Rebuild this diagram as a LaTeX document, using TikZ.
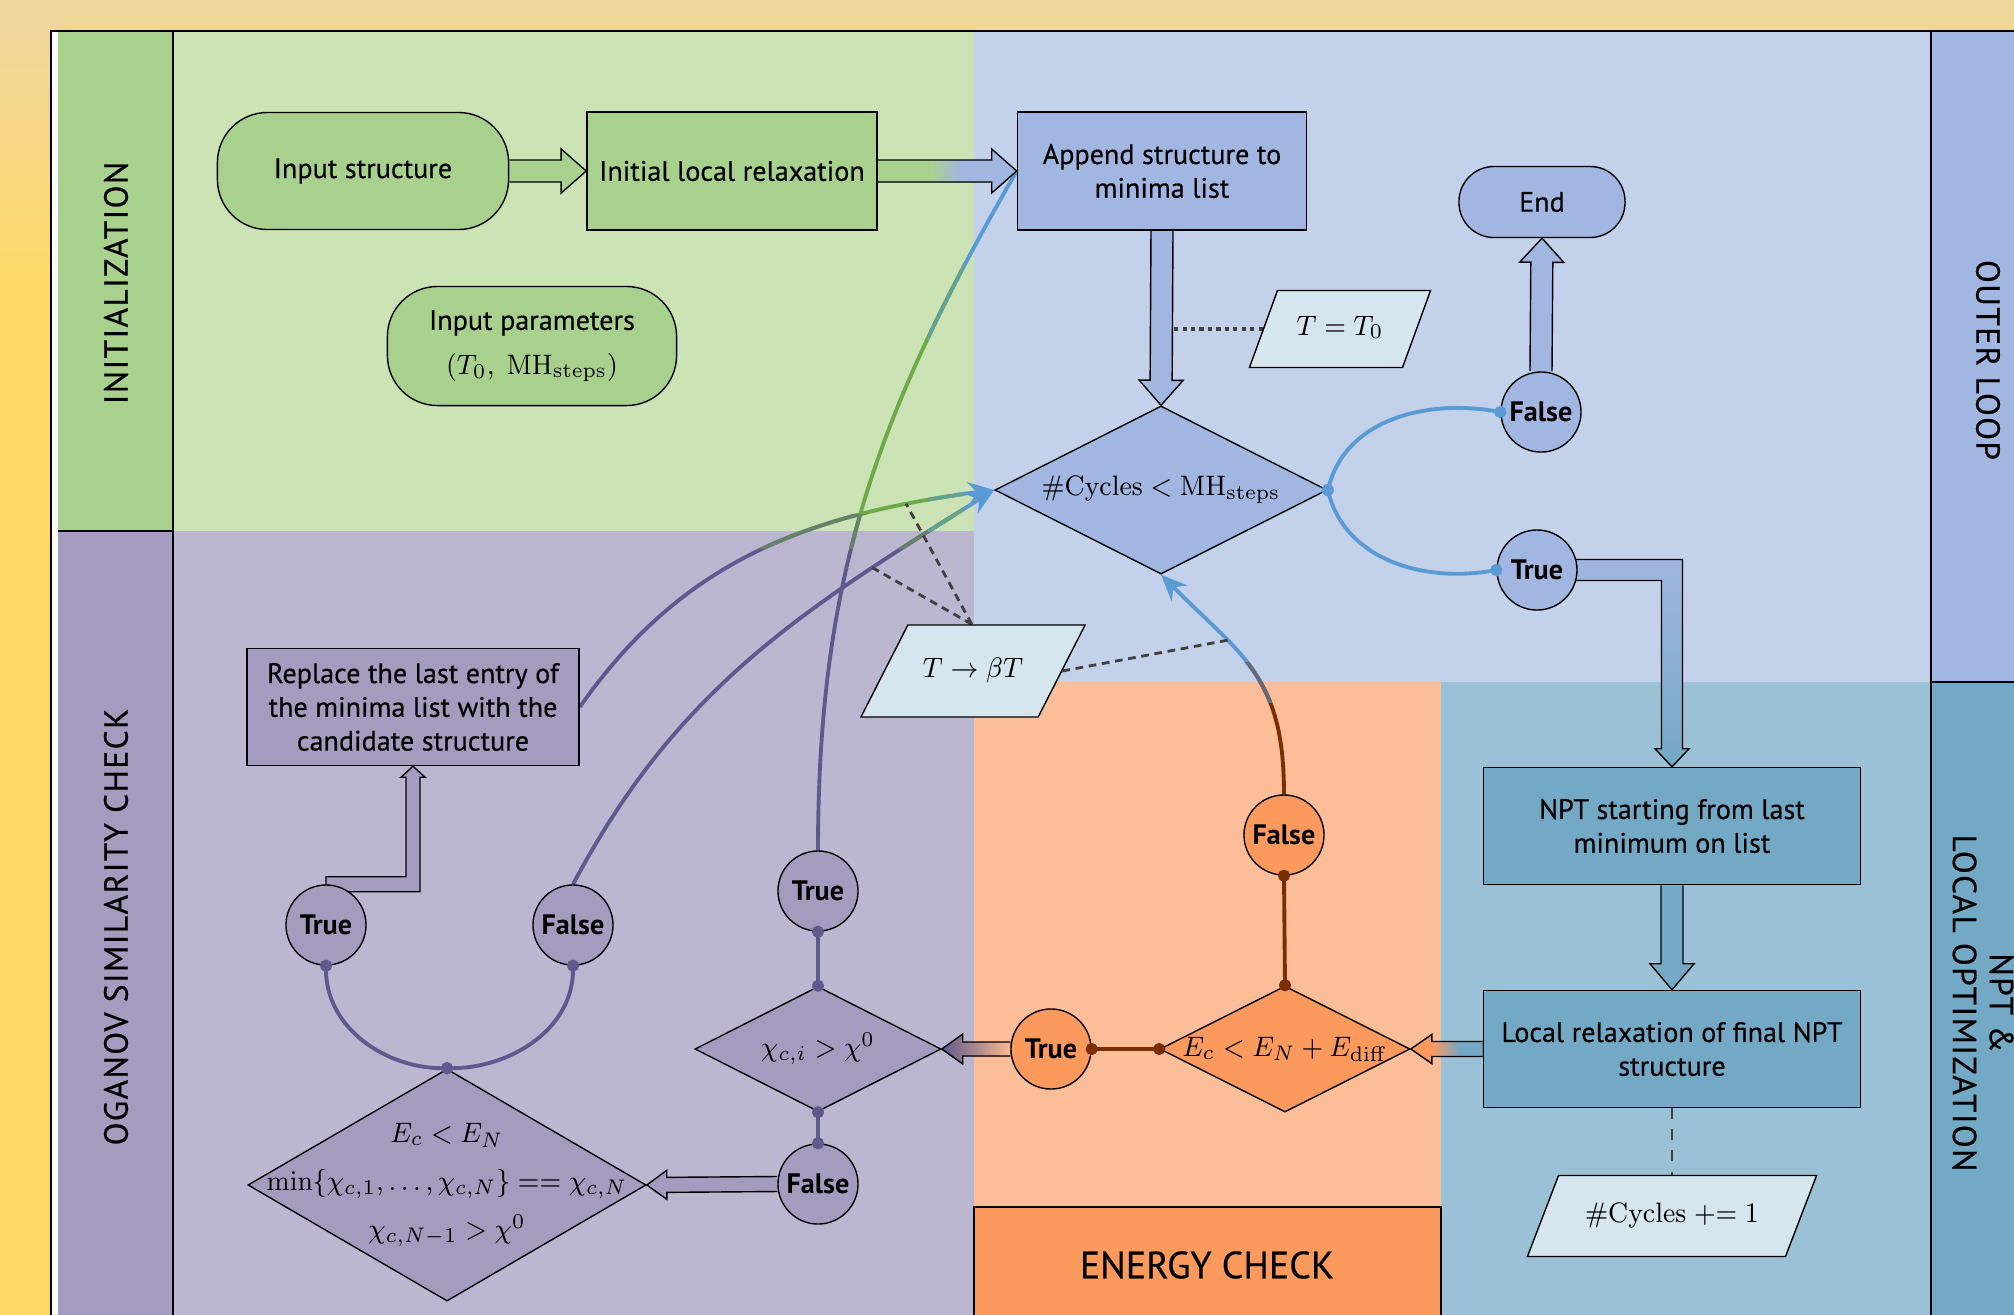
\documentclass[tikz,border=0pt]{standalone}
\usepackage{amsmath,amssymb,graphicx}
\usepackage[no-math]{fontspec}
\setmainfont{PT Sans}[UprightFeatures={FakeBold=0.4}]
\usepackage{tikz}
\usetikzlibrary{shapes,calc,arrows.meta}
\pgfdeclarelayer{background}
\pgfdeclarelayer{links}
\pgfdeclarelayer{front}
\pgfsetlayers{background,links,main,front}

\definecolor{bgtop}{HTML}{EFD69B}
\definecolor{bgbot}{HTML}{FFD966}
\definecolor{initbg}{HTML}{CCE3B5}
\definecolor{initfg}{HTML}{A9D18E}
\definecolor{ogbg}{HTML}{BBB7D1}
\definecolor{ogfg}{HTML}{A39CBE}
\definecolor{outbg}{HTML}{C3D1EA}
\definecolor{outfg}{HTML}{A1B6E0}
\definecolor{enbg}{HTML}{FCBE98}
\definecolor{enfg}{HTML}{FC9A5E}
\definecolor{nptbg}{HTML}{9AC1D5}
\definecolor{nptfg}{HTML}{73A9C4}
\definecolor{iofill}{HTML}{D6E6EE}
\definecolor{lnblue}{HTML}{5B9BD5}
\definecolor{lnpurple}{HTML}{5F5A8D}
\definecolor{lngreen}{HTML}{6FAA48}
\definecolor{lnbrown}{HTML}{7A2E05}
\definecolor{peach}{HTML}{F9B98E}

\pgfdeclareverticalshading{bgfade}{100bp}{color(0bp)=(bgbot); color(64bp)=(bgbot); color(74bp)=(bgtop); color(100bp)=(bgtop)}
\pgfdeclarehorizontalshading{greenblue}{100bp}{color(0bp)=(initfg); color(44bp)=(initfg); color(55bp)=(outfg); color(100bp)=(outfg)}
\pgfdeclarehorizontalshading{orangeteal}{100bp}{color(0bp)=(enfg); color(40bp)=(enfg); color(59bp)=(nptfg); color(100bp)=(nptfg)}

% narrow math, as set in the slide
\newcommand{\mt}[1]{\scalebox{0.93}[1]{\fontsize{8.5}{10}\selectfont #1}}

\tikzset{
   process/.style={rectangle, draw, align=center, inner sep=1pt},
   terminal/.style={rectangle, rounded corners=0.5cm, draw, align=center, inner sep=1pt},
   decision/.style={diamond, draw, inner sep=0pt},
   branch/.style={circle, draw, minimum size=0.8cm, inner sep=0pt,
                  font=\fontsize{8}{9.6}\selectfont\bfseries},
   iobox/.style={trapezium, draw, fill=iofill, trapezium stretches body=true,
                 text height=1.8mm, text depth=0.6mm,
                 trapezium left angle=70, trapezium right angle=110},
   lanelabel/.style={font=\fontsize{9.5}{10.5}\selectfont\addfontfeatures{LetterSpace=4, FakeBold=1}},
   link/.style={line width=1.1pt},
   dotlink/.style={link, {Circle[length=0.12cm]}-{Circle[length=0.12cm]},
                   shorten <=-0.06cm, shorten >=-0.06cm},
   tiplink/.style={-{Stealth[length=0.26cm, width=0.22cm]}},
   betalink/.style={line width=0.8pt, black!75, dash pattern=on 2.2pt off 1.6pt}
}

% block arrow: [style]{from}{to}{shaft half width}{head half width}{head length}
\newcommand{\blockarrow}[6][]{%
  \path (#2) coordinate (ba-s) (#3) coordinate (ba-t)
        ($(ba-t)!#6!(ba-s)$) coordinate (ba-h);
  \filldraw[#1] ($(ba-s)!#4!90:(ba-t)$) -- ($(ba-h)!#4!90:(ba-t)$)
     -- ($(ba-h)!#5!90:(ba-t)$) -- (ba-t) -- ($(ba-h)!#5!-90:(ba-t)$)
     -- ($(ba-h)!#4!-90:(ba-t)$) -- ($(ba-s)!#4!-90:(ba-t)$);
}

% curved connectors, drawn once per lane colour
\newcommand{\curveA}{(ct.north) to[out=90, in=-120] (app.west)}
\newcommand{\curveB}{(rep.east) to[out=55, in=187] coordinate[pos=0.83] (bt1) (cyc.west)}
\newcommand{\curveC}{(ogf.north) to[out=62, in=212] coordinate[pos=0.77] (bt2) (cyc.west)}
\newcommand{\curveD}{(efalse.north) to[out=90, in=-45, looseness=1.2] coordinate[pos=0.68] (bt3) (cyc.south)}

\begin{document}
\begin{tikzpicture}[x=0.01cm, y=-0.01cm, font=\fontsize{8}{9.6}\selectfont]
\useasboundingbox (0,0) rectangle (2014,1314);

\begin{pgfonlayer}{background}
  \shade[shading=bgfade] (0,0) rectangle (2014,1314);
  \fill[white] (51,31) rectangle (2030,1330);
  \fill[initfg] (58,32) rectangle (173,531);
  \fill[ogfg] (58,531) rectangle (173,1330);
  \fill[initbg] (173,32) rectangle (974,531);
  \fill[ogbg] (173,531) rectangle (974,1330);
  \fill[outbg] (974,32) rectangle (1931,682);
  \fill[enbg] (974,682) rectangle (1441,1330);
  \fill[nptbg] (1441,682) rectangle (1931,1330);
  \fill[outfg] (1931,32) rectangle (2030,682);
  \fill[nptfg] (1931,682) rectangle (2030,1330);
  \filldraw[fill=enfg] (974,1330) |- (1441,1207) -- (1441,1330);
  \draw[line width=0.6pt] (51,1330) |- (2030,31);
  \draw (173,32) -- (173,1330) (58,531) -- (173,531);
  \draw (1931,32) -- (1931,1330) (1931,682) -- (2030,682);
\end{pgfonlayer}

% lane titles
\node[lanelabel, rotate=90] (linit) at (116,283) {INITIALIZATION};
\node[lanelabel, rotate=90] (logan) at (116,927) {OGANOV SIMILARITY CHECK};
\node[lanelabel, rotate=-90] (louter) at (1988,360) {OUTER LOOP};
\node[lanelabel, rotate=-90, align=center] (lnpt) at (1983,1003) {NPT \&\\LOCAL OPTIMIZATION};
\node[font=\fontsize{10.8}{12}\selectfont\addfontfeatures{FakeBold=1.2}] (lenergy) at (1207,1265) {ENERGY CHECK};

% initialization
\node[terminal, fill=initfg, minimum width=2.91cm, minimum height=1.17cm] (ins) at (363,171) {Input structure};
\node[process, fill=initfg, minimum width=2.9cm, minimum height=1.18cm] (ilr) at (732,171) {Initial local relaxation};
\node[terminal, fill=initfg, minimum width=2.89cm, minimum height=1.19cm] (inp) at (532,346)
     {Input parameters\\[3pt]\mt{$(T_0,\ \mathrm{MH}_{\mathrm{steps}})$}};

% outer loop
\node[process, fill=outfg, minimum width=2.89cm, minimum height=1.18cm] (app) at (1162,171) {Append structure to\\minima list};
\node[terminal, fill=outfg, rounded corners=0.35cm, minimum width=1.66cm, minimum height=0.71cm] (end) at (1542,202) {End};
\node[iobox, inner ysep=2.65mm, minimum width=1.81cm] (tzero) at (1340,329) {\mt{$T = T_0$}};
\node[decision, fill=outfg, minimum width=3.32cm, minimum height=1.68cm,
      label=center:{\mt{$\mathrm{\#Cycles} < \mathrm{MH}_{\mathrm{steps}}$}}] (cyc) at (1161,490) {};
\node[branch, fill=outfg] (ofalse) at (1541,412) {False};
\node[branch, fill=outfg] (otrue) at (1537,570) {True};
\node[iobox, trapezium left angle=63, trapezium right angle=117, inner ysep=3.4mm, minimum width=2.24cm] (tb) at (973,671) {\mt{$T \to \beta T$}};

% NPT and local optimization
\node[process, fill=nptfg, minimum width=3.77cm, minimum height=1.17cm] (npt) at (1672,826) {NPT starting from last\\minimum on list};
\node[process, fill=nptfg, minimum width=3.77cm, minimum height=1.17cm] (loc) at (1672,1049) {Local relaxation of final NPT\\structure};
\node[iobox, trapezium left angle=69, trapezium right angle=111, inner ysep=2.85mm, minimum width=2.89cm] (cycinc) at (1672,1216) {\mt{$\mathrm{\#Cycles} \mathrel{+}= 1$}};

% energy check
\node[decision, fill=enfg, minimum width=2.5cm, minimum height=1.26cm,
      label=center:{\mt{$E_c < E_N + E_{\mathrm{diff}}$}}] (edia) at (1285,1049) {};
\node[branch, fill=enfg] (efalse) at (1284,835) {False};
\node[branch, fill=enfg] (etrue) at (1051,1049) {True};

% oganov similarity check
\node[process, fill=ogfg, minimum width=3.32cm, minimum height=1.17cm] (rep) at (413,707)
     {Replace the last entry of\\the minima list with the\\candidate structure};
\node[branch, fill=ogfg] (ogt) at (326,925) {True};
\node[branch, fill=ogfg] (ogf) at (573,925) {False};
\node[branch, fill=ogfg] (ct) at (818,891) {True};
\node[decision, fill=ogfg, minimum width=2.46cm, minimum height=1.25cm,
      label=center:{\mt{$\chi_{c,i} > \chi^0$}}] (chi) at (818,1049) {};
\node[branch, fill=ogfg] (cf) at (818,1184) {False};
\node[decision, fill=ogfg, minimum width=3.98cm, minimum height=2.32cm,
      label={[align=center]center:{\mt{$E_c < E_N$}\\[4pt]\mt{$\min\{\chi_{c,1},\ldots,\chi_{c,N}\} == \chi_{c,N}$}\\[4pt]\mt{$\chi_{c,N-1} > \chi^0$}}}] (big) at (447,1185) {};

\begin{pgfonlayer}{links}
  % lane coloured curves
  \begin{scope}
    \clip (173,531) rectangle (955,1314);
    \draw[link, lnpurple] \curveA \curveB \curveC;
  \end{scope}
  \begin{scope}
    \clip (173,32) rectangle (955,531);
    \draw[link, lngreen] \curveA \curveB \curveC;
  \end{scope}
  \begin{scope}
    \clip (173,514) rectangle (955,548);
    \draw[link, lnpurple!50!lngreen] \curveA \curveB \curveC;
  \end{scope}
  \begin{scope}
    \clip (955,32) rectangle (1931,682);
    \draw[link, lnblue] \curveA;
    \draw[link, lnblue, tiplink] \curveB;
    \draw[link, lnblue, tiplink] \curveC;
    \draw[link, lnblue, tiplink] \curveD;
  \end{scope}
  \begin{scope}
    \clip (928,32) rectangle (964,531);
    \draw[link, lngreen!50!lnblue] \curveA \curveB \curveC;
  \end{scope}
  \begin{scope}
    \clip (974,682) rectangle (1441,1314);
    \draw[link, lnbrown] \curveD;
  \end{scope}
  \begin{scope}
    \clip (974,662) rectangle (1441,702);
    \draw[link, lnbrown!45!lnblue] \curveD;
  \end{scope}

  % temperature notes
  \coordinate (tbtop) at ($(tb.top left corner)!0.36!(tb.top right corner)$);
  \draw[betalink] (tbtop) -- (bt1) (tbtop) -- (bt2) (tb.east) -- (bt3);
  \coordinate (appr) at ($(app.south)+(11,0)$);
  \draw[line width=1.1pt, black!75, dash pattern=on 1.2pt off 1.2pt] (tzero.west) -- (appr |- tzero.west);
  \draw[black!75, dashed] (loc.south) -- (loc.south |- cycinc.north);

  % block arrows
  \blockarrow[fill=initfg]{ins.east}{ilr.west}{0.11cm}{0.22cm}{0.25cm}
  \blockarrow[shading=greenblue, shade]{ilr.east}{app.west}{0.11cm}{0.22cm}{0.25cm}
  \blockarrow[fill=outfg]{app.south}{cyc.north}{0.11cm}{0.22cm}{0.25cm}
  \blockarrow[fill=outfg]{ofalse.north}{end.south}{0.11cm}{0.22cm}{0.24cm}
  \blockarrow[fill=nptfg]{npt.south}{loc.north}{0.11cm}{0.22cm}{0.26cm}
  \blockarrow[shading=orangeteal, shade]{loc.west}{edia.east}{0.075cm}{0.145cm}{0.21cm}
  \blockarrow[left color=lnpurple, right color=peach]{etrue.west}{chi.east}{0.07cm}{0.15cm}{0.21cm}
  \blockarrow[fill=ogfg]{cf.west}{big.east}{0.075cm}{0.145cm}{0.2cm}

  % elbow arrows
  \coordinate (tn) at (otrue -| npt.north);
  \filldraw[top color=outfg, bottom color=nptfg] ($(otrue)+(0,-10.5)$) -- ($(tn)+(10.5,-10.5)$)
     -- ($(npt.north)+(10.5,-18)$) -- ($(npt.north)+(17,-18)$) -- (npt.north)
     -- ($(npt.north)+(-17,-18)$) -- ($(npt.north)+(-10.5,-18)$) -- ($(tn)+(-10.5,10.5)$)
     -- ($(otrue)+(0,10.5)$);
  \coordinate (rc) at (ogt.north -| rep.south);
  \filldraw[fill=ogfg] ($(ogt.north)+(0,-7.5)$) -- ($(rc)+(-7,-7.5)$) -- ($(rep.south)+(-7,11)$)
     -- ($(rep.south)+(-12,11)$) -- (rep.south) -- ($(rep.south)+(12,11)$)
     -- ($(rep.south)+(7,11)$) -- ($(rc)+(7,7.5)$) -- ($(ogt.north)+(0,7.5)$) -- cycle;
\end{pgfonlayer}

\begin{pgfonlayer}{front}
  % branch connectors with end dots
  \draw[dotlink, lnblue] (cyc.east) to[out=75, in=170] (ofalse.west);
  \draw[dotlink, lnblue] (cyc.east) to[out=-75, in=190] (otrue.west);
  \draw[dotlink, lnpurple] (ogt.south) to[out=-90, in=180] (big.north);
  \draw[dotlink, lnpurple] (ogf.south) to[out=-90, in=0] (big.north);
  \draw[dotlink, lnpurple] (ct.south) -- (chi.north);
  \draw[dotlink, lnpurple] (chi.south) -- (cf.north);
  \draw[dotlink, lnbrown] (etrue.east) -- (edia.west);
  \draw[dotlink, lnbrown] (edia.north) -- (efalse.south);
\end{pgfonlayer}
\end{tikzpicture}
\end{document}
